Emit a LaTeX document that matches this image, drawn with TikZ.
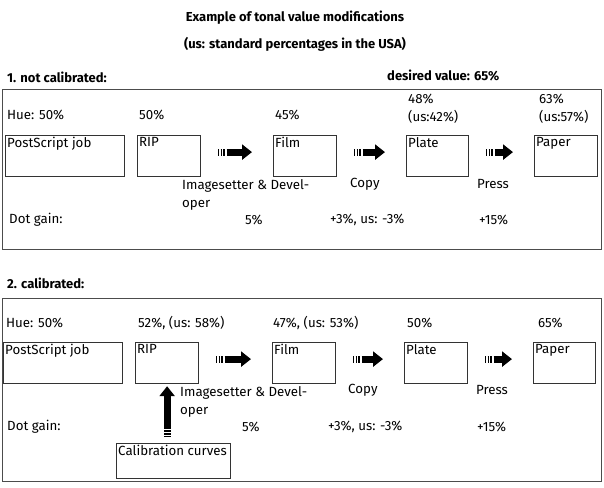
\documentclass[tikz,border=0pt]{standalone}
\usepackage{fontspec}
\setmainfont{Fira Sans}
\usetikzlibrary{arrows.meta}
\tikzset{
	frame/.style={draw=black!70,line width=1pt},%
	stage/.style={draw=black!80,line width=1.2pt,anchor=north west,inner sep=0pt,minimum width=63pt,minimum height=41pt},%
	stagename/.style={anchor=north west,inner sep=2pt},%
	txt/.style={anchor=west,inner sep=0pt,align=left},%
	heading/.style={anchor=west,inner sep=0pt,font=\bfseries\fontsize{13}{18}\selectfont},%
	flow/.style={line width=7pt,dash pattern=on 1pt off 1.4pt on 1.4pt off 1.4pt on 1.8pt off 1.4pt on 60pt,-{Triangle[length=10pt,width=15pt]},shorten <=17pt,shorten >=21pt},%
}

\begin{document}
\begin{tikzpicture}[x=1pt,y=-1pt,font=\fontsize{13.3}{18}\selectfont]
	\useasboundingbox (0,0) rectangle (604,487);
	% title
	\node[font=\bfseries\fontsize{13}{18}\selectfont,align=center,inner sep=0pt] (title) at (295,31) {Example of tonal value modifications\\[9pt](us: standard percentages in the USA)};
	%
	% 1. not calibrated
	\node[heading] (head1) at (7,77) {1. not calibrated:};
	\node[heading] (want1) at (387,75) {desired value: 65\%};
	\draw[frame] (2,89) rectangle (601,249);
	\node[txt] (hue1) at (7,115) {Hue: 50\%};
	\node[txt] (valrip1) at (139,115) {50\%};
	\node[txt] (valfilm1) at (275,115) {45\%};
	\node[txt] (valplate1) at (408,109) {48\%\\(us:42\%)};
	\node[txt] (valpaper1) at (539,109) {63\%\\(us:57\%)};
	\node[stage,minimum width=119pt,label={[stagename]north west:PostScript job}] (job1) at (5,135) {};
	\node[stage,label={[stagename]north west:RIP}] (rip1) at (137,135) {};
	\node[stage,label={[stagename]north west:Film}] (film1) at (273,135) {};
	\node[stage,minimum width=62pt,label={[stagename]north west:Plate}] (plate1) at (406,135) {};
	\node[stage,label={[stagename]north west:Paper}] (paper1) at (534,135) {};
	\draw[flow] ([yshift=4pt]rip1.east) -- ([yshift=4pt]film1.west);
	\draw[flow] ([yshift=4pt]film1.east) -- ([yshift=4pt]plate1.west);
	\draw[flow] ([yshift=4pt]plate1.east) -- ([yshift=4pt]paper1.west);
	\node[txt] (imgset1) at (182,195) {Imagesetter \& Devel-\\oper};
	\node[txt] (copy1) at (350,184) {Copy};
	\node[txt] (press1) at (477,184) {Press};
	\node[txt] (gain1) at (9,220) {Dot gain:};
	\node[txt] (gainfilm1) at (245,220) {5\%};
	\node[txt] (gainplate1) at (330,220) {+3\%, us: -3\%};
	\node[txt] (gainpaper1) at (479,220) {+15\%};
	%
	% 2. calibrated
	\node[heading] (head2) at (7,283) {2. calibrated:};
	\draw[frame] (2,298) rectangle (601,481);
	\node[txt] (hue2) at (6,323) {Hue: 50\%};
	\node[txt] (valrip2) at (138,323) {52\%, (us: 58\%)};
	\node[txt] (valfilm2) at (273,323) {47\%, (us: 53\%)};
	\node[txt] (valplate2) at (407,323) {50\%};
	\node[txt] (valpaper2) at (538,323) {65\%};
	\node[stage,minimum width=119pt,label={[stagename]north west:PostScript job}] (job2) at (3,342) {};
	\node[stage,label={[stagename]north west:RIP}] (rip2) at (135,342) {};
	\node[stage,label={[stagename]north west:Film}] (film2) at (272,342) {};
	\node[stage,label={[stagename]north west:Plate}] (plate2) at (404,342) {};
	\node[stage,minimum width=62pt,label={[stagename]north west:Paper}] (paper2) at (533,342) {};
	\draw[flow] ([yshift=4pt]rip2.east) -- ([yshift=4pt]film2.west);
	\draw[flow] ([yshift=4pt]film2.east) -- ([yshift=4pt]plate2.west);
	\draw[flow] ([yshift=4pt]plate2.east) -- ([yshift=4pt]paper2.west);
	\node[stage,minimum width=114pt,minimum height=35pt,label={[stagename]north west:Calibration curves}] (curves) at (116,443) {};
	\draw[flow,shorten <=6pt,shorten >=2pt] (curves.north -| rip2.south) -- (rip2.south);
	\node[txt] (imgset2) at (180,402) {Imagesetter \& Devel-\\oper};
	\node[txt] (copy2) at (348,390) {Copy};
	\node[txt] (press2) at (476,390) {Press};
	\node[txt] (gain2) at (7,427) {Dot gain:};
	\node[txt] (gainfilm2) at (242,427) {5\%};
	\node[txt] (gainplate2) at (328,427) {+3\%, us: -3\%};
	\node[txt] (gainpaper2) at (477,427) {+15\%};
\end{tikzpicture}
\end{document}
